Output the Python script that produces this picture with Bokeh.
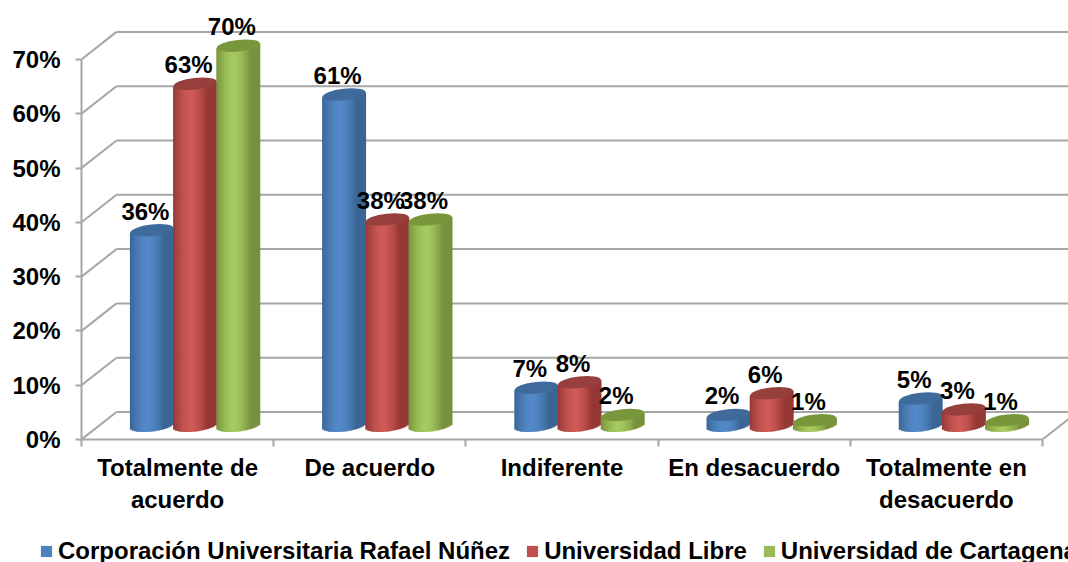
from bokeh.embed import file_html
from bokeh.resources import INLINE
from bokeh.plotting import figure
from bokeh.layouts import column
from bokeh.models import FixedTicker, Legend, LegendItem, Range1d, ColumnDataSource
from bokeh.core.properties import value
import math

categories = ["Totalmente de\nacuerdo", "De acuerdo", "Indiferente", "En desacuerdo", "Totalmente en\ndesacuerdo"]
series_names = ["Corporación Universitaria Rafael Núñez", "Universidad Libre", "Universidad de Cartagena"]
rafael_nunez = [36, 61, 7, 2, 5]
libre = [63, 38, 8, 6, 3]
cartagena = [70, 38, 2, 1, 1]
y_ticks = [0, 10, 20, 30, 40, 50, 60, 70]
legend_colors = ["#4f81bd", "#c0504d", "#9bbb59"]

FONT = "Liberation Sans"
W, H, LEG_H = 1068, 562, 42
LEFT, BOTTOM = 81, 439
XU, YU = 192.2, 5.43           # pixels per category / per percent
DX, DY = 35 / XU, 27.5 / YU    # depth of the floor
BW, EH = 43.2 / XU, 5.8 / YU   # bar width, ellipse half height
TILT = 2.4 / YU
series = [rafael_nunez, libre, cartagena]
body = [("#3a6595", "#5389c8"), ("#953735", "#cf5a57"), ("#76923c", "#a6ca60")]
caps = ["#3f6a9c", "#973f3c", "#78973a"]

p = figure(width=W, height=H - LEG_H, output_backend="svg", toolbar_location=None,
           x_range=Range1d(0, (W - LEFT) / XU), y_range=Range1d(0, BOTTOM / YU),
           min_border_left=LEFT, min_border_right=0, min_border_top=0, min_border_bottom=H - LEG_H - BOTTOM,
           outline_line_color=None, background_fill_color="white")
p.grid.visible = False

GRID = "#a6a6a6"
xmax = (W - LEFT) / XU
p.segment(x0=[0] * len(y_ticks), y0=y_ticks, x1=[DX] * len(y_ticks), y1=[v + DY for v in y_ticks],
          line_color=GRID, line_width=2)
p.segment(x0=[DX] * len(y_ticks), y0=[v + DY for v in y_ticks], x1=[xmax] * len(y_ticks),
          y1=[v + DY for v in y_ticks], line_color=GRID, line_width=2)
p.segment(x0=[5], y0=[0], x1=[5 + DX], y1=[DY], line_color=GRID, line_width=2)

def mix(a, b, t):
    ca = [int(a[i:i + 2], 16) for i in (1, 3, 5)]
    cb = [int(b[i:i + 2], 16) for i in (1, 3, 5)]
    return "#%02x%02x%02x" % tuple(round(x + (y - x) * t) for x, y in zip(ca, cb))

N = 22
for s, vals in enumerate(series):
    centers = [i + 0.5 + DX / 2 + (s - 1) * BW for i in range(len(vals))]
    xs, tops, bottoms, colors = [], [], [], []
    for c, v in zip(centers, vals):
        for k in range(N):
            t = (k + 0.5) / N * 2 - 1
            arc = EH * math.sqrt(max(0, 1 - t * t))
            xs.append(c + t * BW / 2)
            bottoms.append(DY / 2 + t * TILT - arc)
            tops.append(v + DY / 2 + t * TILT)
            colors.append(mix(body[s][1], body[s][0], min(1, abs(t + 0.2) / 0.8) ** 1.6))
    p.vbar(x=xs, top=tops, bottom=bottoms, width=BW / N * 1.4, fill_color=colors, line_color=None)
    ell = ColumnDataSource(dict(x=centers, y=[v + DY / 2 for v in vals]))
    p.ellipse(x="x", y="y", width=BW, height=EH * 2, angle=math.atan(2 * 2.4 / 43.2), source=ell,
              fill_color=caps[s], line_color=None, width_units="data", height_units="data")

for s, vals in enumerate(series):
    centers = [i + 0.5 + DX / 2 + (s - 1) * BW for i in range(len(vals))]
    p.text(x=centers, y=[v + DY / 2 for v in vals], text=[f"{v}%" for v in vals],
           text_font=value(FONT), text_font_style="bold", text_font_size="24px", text_color="black",
           text_align="center", text_baseline="middle", x_offset=-6.5, y_offset=-19)

ax = p.yaxis[0]
ax.ticker = FixedTicker(ticks=y_ticks)
ax.bounds = (0, 70)
ax.major_label_overrides = {v: f"{v}%" for v in y_ticks}
ax.major_label_text_font = FONT
ax.major_label_text_font_style = "bold"
ax.major_label_text_font_size = "24px"
ax.major_label_text_color = "black"
ax.major_label_standoff = 15
ax.major_tick_in = 0
ax.major_tick_out = 6
ax.minor_tick_line_color = None
ax.axis_line_color = GRID
ax.axis_line_width = 2
ax.major_tick_line_color = GRID
ax.major_tick_line_width = 2

bx = p.xaxis[0]
centers_x = [i + 0.5 for i in range(len(categories))]
bx.ticker = FixedTicker(ticks=centers_x, minor_ticks=list(range(len(categories) + 1)))
bx.bounds = (0, 5)
bx.major_label_overrides = {c: n for c, n in zip(centers_x, categories)}
bx.major_label_text_font = FONT
bx.major_label_text_font_style = "bold"
bx.major_label_text_font_size = "24px"
bx.major_label_text_color = "black"
bx.major_label_standoff = 7
bx.major_tick_in = 0
bx.major_tick_out = 0
bx.minor_tick_in = 0
bx.minor_tick_out = 7
bx.minor_tick_line_color = GRID
bx.minor_tick_line_width = 2
bx.axis_line_color = GRID
bx.axis_line_width = 2

q = figure(width=W, height=LEG_H, output_backend="svg", toolbar_location=None,
           x_axis_type=None, y_axis_type=None, x_range=Range1d(0, 1), y_range=Range1d(0, 1),
           min_border_left=0, min_border_right=0, min_border_top=0, min_border_bottom=0,
           outline_line_color=None, background_fill_color="white")
q.grid.visible = False
handles = [q.quad(left=[-9], right=[-9], top=[-9], bottom=[-9], fill_color=c, line_color=None) for c in legend_colors]
lg = Legend(items=[LegendItem(label=n, renderers=[r]) for n, r in zip(series_names, handles)],
            orientation="horizontal", location=(39, -3), background_fill_alpha=0, border_line_color=None,
            label_text_font=FONT, label_text_font_style="bold", label_text_font_size="24px", label_text_color="black",
            glyph_width=14, glyph_height=14, label_standoff=5, spacing=15, padding=0, margin=0,
            label_height=22)
q.add_layout(lg, "center")

page = column(column(p), column(q), spacing=0)
open("out.html", "w").write(file_html(page, INLINE))
